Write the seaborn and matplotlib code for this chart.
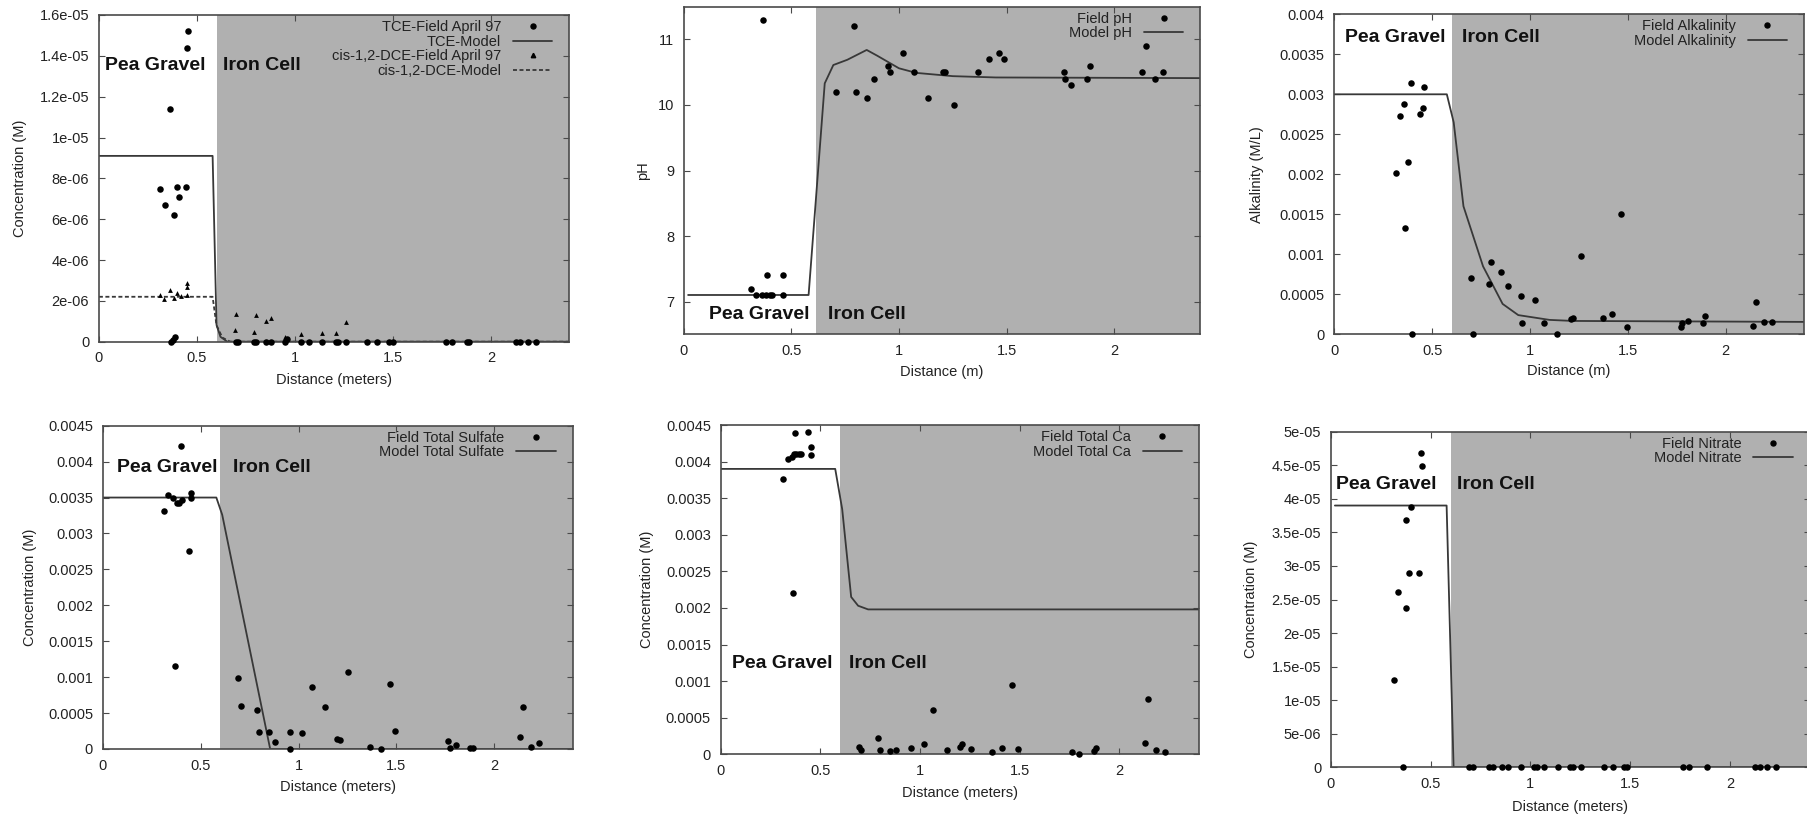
import matplotlib
matplotlib.use("Agg")
import matplotlib.pyplot as plt
import seaborn as sns
from matplotlib.ticker import FixedLocator, FuncFormatter
from matplotlib.lines import Line2D

# ------------------------------------------------------------------ data
# Panel 1: TCE and cis-1,2-DCE
tce_field_x = [0.453, 0.451, 0.363, 0.312, 0.336, 0.400, 0.443, 0.409, 0.385, 0.370, 0.380, 0.390,
               0.70, 0.71, 0.79, 0.80, 0.85, 0.88, 0.95, 0.96, 1.03, 1.07, 1.14, 1.21, 1.22, 1.26,
               1.37, 1.42, 1.48, 1.50, 1.77, 1.80, 1.88, 1.89, 2.13, 2.15, 2.19, 2.23]
tce_field_y = [1.52e-5, 1.44e-5, 1.14e-5, 7.5e-6, 6.7e-6, 7.6e-6, 7.6e-6, 7.1e-6, 6.2e-6, 0.0, 1e-7, 2.5e-7,
               0, 0, 0, 0, 0, 0, 0, 1.5e-7, 0, 0, 0, 0, 0, 0,
               0, 0, 0, 0, 0, 0, 0, 0, 0, 0, 0, 0]
tce_model_x = [0.0, 0.58, 0.60, 0.62, 0.655, 2.4]
tce_model_y = [9.1e-6, 9.1e-6, 8.2e-7, 2.4e-7, 0.0, 0.0]
dce_field_x = [0.312, 0.334, 0.363, 0.383, 0.397, 0.417, 0.451, 0.451, 0.451,
               0.70, 0.695, 0.80, 0.79, 0.85, 0.88, 0.95, 1.03, 1.14, 1.21, 1.26]
dce_field_y = [2.29e-6, 2.09e-6, 2.53e-6, 2.16e-6, 2.37e-6, 2.24e-6, 2.86e-6, 2.66e-6, 2.29e-6,
               1.36e-6, 5.7e-7, 1.31e-6, 4.9e-7, 1.01e-6, 1.18e-6, 2.1e-7, 3.8e-7, 4.1e-7, 4.4e-7, 9.5e-7]
dce_model_x = [0.0, 0.58, 0.60, 0.63, 0.67, 2.4]
dce_model_y = [2.2e-6, 2.2e-6, 8e-7, 2e-7, 0.0, 0.0]

# Panel 2: pH
ph_field_x = [0.368, 0.313, 0.335, 0.362, 0.381, 0.399, 0.408, 0.386, 0.463, 0.459,
              0.706, 0.790, 0.798, 0.851, 0.882, 0.951, 0.957, 1.019, 1.070, 1.134, 1.204, 1.215,
              1.255, 1.369, 1.420, 1.464, 1.489, 1.766, 1.773, 1.800, 1.876, 1.888,
              2.130, 2.146, 2.188, 2.229]
ph_field_y = [11.30, 7.19, 7.10, 7.10, 7.10, 7.10, 7.10, 7.40, 7.40, 7.10,
              10.20, 11.20, 10.20, 10.10, 10.40, 10.60, 10.50, 10.80, 10.50, 10.10, 10.50, 10.50,
              10.00, 10.50, 10.70, 10.80, 10.70, 10.50, 10.40, 10.30, 10.40, 10.60,
              10.50, 10.90, 10.40, 10.50]
ph_model_x = [0.02, 0.58, 0.655, 0.695, 0.76, 0.85, 0.90, 1.00, 1.08, 1.25, 1.45, 2.40]
ph_model_y = [7.10, 7.10, 10.33, 10.61, 10.69, 10.84, 10.75, 10.56, 10.49, 10.44, 10.42, 10.41]

# Panel 3: Alkalinity
alk_field_x = [0.391, 0.456, 0.357, 0.335, 0.452, 0.440, 0.379, 0.313, 0.361, 0.399,
               0.696, 0.710, 0.800, 0.792, 0.853, 0.885, 0.956, 0.958, 1.026, 1.073, 1.139,
               1.210, 1.220, 1.262, 1.371, 1.417, 1.466, 1.498, 1.772, 1.778, 1.806, 1.885,
               1.895, 2.139, 2.157, 2.196, 2.236]
alk_field_y = [3.14e-3, 3.09e-3, 2.88e-3, 2.73e-3, 2.83e-3, 2.75e-3, 2.15e-3, 2.02e-3, 1.33e-3, 0.0,
               7.1e-4, 0.0, 9.0e-4, 6.25e-4, 7.8e-4, 6.1e-4, 4.8e-4, 1.4e-4, 4.3e-4, 1.4e-4, 0.0,
               1.9e-4, 2.0e-4, 9.8e-4, 2.0e-4, 2.5e-4, 1.51e-3, 9.6e-5, 9.6e-5, 1.4e-4, 1.7e-4, 1.4e-4,
               2.3e-4, 1.0e-4, 4.0e-4, 1.5e-4, 1.5e-4]
alk_model_x = [0.0, 0.575, 0.61, 0.66, 0.76, 0.86, 0.94, 1.10, 1.22, 2.40]
alk_model_y = [3.0e-3, 3.0e-3, 2.65e-3, 1.6e-3, 8.5e-4, 3.8e-4, 2.4e-4, 1.8e-4, 1.67e-4, 1.55e-4]

# Panel 4: Total sulfate
sulf_field_x = [0.398, 0.313, 0.333, 0.358, 0.378, 0.388, 0.406, 0.453, 0.453, 0.438, 0.370,
                0.691, 0.705, 0.788, 0.796, 0.851, 0.879, 0.954, 0.954, 1.018, 1.069, 1.133,
                1.198, 1.212, 1.253, 1.366, 1.420, 1.465, 1.493, 1.766, 1.776, 1.802, 1.877,
                1.893, 2.131, 2.147, 2.188, 2.230]
sulf_field_y = [4.22e-3, 3.31e-3, 3.53e-3, 3.50e-3, 3.42e-3, 3.43e-3, 3.46e-3, 3.56e-3, 3.49e-3, 2.75e-3, 1.16e-3,
                9.9e-4, 6.0e-4, 5.4e-4, 2.3e-4, 2.3e-4, 1.0e-4, 2.4e-4, 0.0, 2.2e-4, 8.6e-4, 5.8e-4,
                1.4e-4, 1.2e-4, 1.07e-3, 3e-5, 0.0, 9.0e-4, 2.5e-4, 1.1e-4, 1e-5, 5e-5, 1e-5,
                2e-5, 1.7e-4, 5.8e-4, 3e-5, 8e-5]
sulf_model_x = [0.0, 0.58, 0.61, 0.855, 2.40]
sulf_model_y = [3.5e-3, 3.5e-3, 3.26e-3, 0.0, 0.0]

# Panel 5: Total Ca
ca_field_x = [0.372, 0.437, 0.337, 0.357, 0.368, 0.380, 0.394, 0.404, 0.453, 0.453, 0.313, 0.363,
              0.692, 0.703, 0.788, 0.798, 0.851, 0.881, 0.954, 1.021, 1.068, 1.135, 1.202, 1.212,
              1.255, 1.360, 1.411, 1.460, 1.492, 1.764, 1.799, 1.872, 1.882, 2.128, 2.146, 2.185, 2.228]
ca_field_y = [4.39e-3, 4.41e-3, 4.04e-3, 4.06e-3, 4.10e-3, 4.10e-3, 4.11e-3, 4.11e-3, 4.20e-3, 4.09e-3, 3.76e-3, 2.20e-3,
              9.5e-5, 6e-5, 2.2e-4, 6e-5, 5e-5, 6e-5, 8e-5, 1.4e-4, 6.0e-4, 6e-5, 1e-4, 1.4e-4,
              7e-5, 3e-5, 9e-5, 9.5e-4, 7e-5, 3e-5, 1e-5, 5e-5, 8e-5, 1.6e-4, 7.5e-4, 6e-5, 3e-5]
ca_model_x = [0.0, 0.575, 0.61, 0.655, 0.69, 0.74, 2.40]
ca_model_y = [3.9e-3, 3.9e-3, 3.35e-3, 2.15e-3, 2.03e-3, 1.98e-3, 1.98e-3]

# Panel 6: Nitrate
no3_field_x = [0.453, 0.455, 0.401, 0.376, 0.391, 0.440, 0.337, 0.378, 0.316, 0.360,
               0.692, 0.711, 0.793, 0.812, 0.857, 0.886, 0.953, 1.016, 1.031, 1.070, 1.137, 1.200,
               1.215, 1.256, 1.370, 1.413, 1.467, 1.486, 1.767, 1.796, 1.884, 2.128, 2.149, 2.186, 2.229]
no3_field_y = [4.69e-5, 4.49e-5, 3.88e-5, 3.69e-5, 2.89e-5, 2.89e-5, 2.61e-5, 2.38e-5, 1.30e-5, 0.0,
               0, 0, 0, 0, 0, 0, 0, 0, 0, 0, 0, 0,
               0, 0, 0, 0, 0, 0, 0, 0, 0, 0, 0, 0, 0]
no3_model_x = [0.02, 0.58, 0.615, 2.40]
no3_model_y = [3.9e-5, 3.9e-5, 0.0, 0.0]

x_ticks = [0, 0.5, 1, 1.5, 2]

# ------------------------------------------------------------------ style
sns.set_theme(style="ticks")
plt.rcParams["font.family"] = ["Liberation Sans", "DejaVu Sans"]

W, H = 1807, 818
TEXT_C = "#222222"
GRAY = "#b0b0b0"
LINE_C = "#383838"
SPINE_C = "#4a4a4a"

fig = plt.figure(figsize=(W / 100, H / 100), dpi=100)
fig.patch.set_facecolor("white")


def add_axes(rect):
    l, t, r, b = rect
    return fig.add_axes([l / W, 1 - b / H, (r - l) / W, (b - t) / H])


gfmt = FuncFormatter(lambda v, p: "%g" % round(v, 12))


def style(ax, rect, xlabel, ylabel, ylim, yticks, ylab_cx, xlab_cy, gray_start=0.6):
    l, t, r, b = rect
    ax.set_facecolor("white")
    ax.set_xlim(0, 2.4)
    ax.set_ylim(*ylim)
    ax.axvspan(gray_start, 2.4, color=GRAY, lw=0, zorder=0)
    ax.xaxis.set_major_locator(FixedLocator(x_ticks))
    ax.yaxis.set_major_locator(FixedLocator(yticks))
    ax.xaxis.set_major_formatter(gfmt)
    ax.yaxis.set_major_formatter(gfmt)
    ax.tick_params(direction="in", top=True, right=True, length=4, width=0.8,
                   color=SPINE_C, labelsize=10.5, labelcolor=TEXT_C, pad=7)
    for s in ax.spines.values():
        s.set_color(SPINE_C)
        s.set_linewidth(1.2)
    ax.set_xlabel(xlabel, fontsize=10.5, color=TEXT_C, va="center")
    ax.set_ylabel(ylabel, fontsize=10.5, color=TEXT_C, va="center")
    ax.yaxis.set_label_coords((ylab_cx - l) / (r - l), 0.5)
    ax.xaxis.set_label_coords(0.5, (b - xlab_cy) / (b - t))


def zones(ax, y, pg_x, ic_x):
    kw = dict(fontsize=14, fontweight="bold", color="#111111", ha="left", va="center", zorder=4)
    ax.text(pg_x, y, "Pea Gravel", **kw)
    ax.text(ic_x, y, "Iron Cell", **kw)


def legend(ax, rect, handles, labels):
    l, t, r, b = rect
    leg = ax.legend(handles, labels, loc="upper right",
                    bbox_to_anchor=(1 - 17 / (r - l), 1 - 5 / (b - t)),
                    borderaxespad=0, borderpad=0, frameon=False, markerfirst=False,
                    fontsize=10.5, handlelength=2.7, handletextpad=0.8, labelspacing=0.05)
    for tx in leg.get_texts():
        tx.set_color(TEXT_C)


def field(ax, x, y, marker="o", s=22):
    sns.scatterplot(x=x, y=y, ax=ax, color="black", marker=marker, s=s, linewidth=0,
                    clip_on=False, zorder=3, legend=False)


def model(ax, x, y, ls="-"):
    sns.lineplot(x=x, y=y, ax=ax, color=LINE_C, linewidth=1.3, linestyle=ls,
                 estimator=None, sort=False, legend=False, zorder=2)


h_dot = Line2D([], [], ls="none", marker="o", color="black", markersize=3.6)
h_tri = Line2D([], [], ls="none", marker="^", color="black", markersize=3.2)
h_line = Line2D([], [], color=LINE_C, lw=1.3)
h_dash = Line2D([], [], color=LINE_C, lw=1.3, ls=(0, (2.2, 1.4)))

# ------------------------------------------------------------------ panel 1
r1 = (98.9, 15.0, 569.4, 341.7)
ax = add_axes(r1)
style(ax, r1, "Distance (meters)", "Concentration (M)", (0, 1.6e-5),
      [0, 2e-6, 4e-6, 6e-6, 8e-6, 1e-5, 1.2e-5, 1.4e-5, 1.6e-5], 19.8, 380)
model(ax, tce_model_x, tce_model_y)
model(ax, dce_model_x, dce_model_y, ls=(0, (2.2, 1.4)))
field(ax, tce_field_x, tce_field_y)
field(ax, dce_field_x, dce_field_y, marker="^", s=12)
zones(ax, 1.355e-5, 0.03, 0.634)
legend(ax, r1, [h_dot, h_line, h_tri, h_dash],
       ["TCE-Field April 97", "TCE-Model", "cis-1,2-DCE-Field April 97", "cis-1,2-DCE-Model"])

# ------------------------------------------------------------------ panel 2
r2 = (683.8, 6.7, 1200.2, 334.3)
ax = add_axes(r2)
style(ax, r2, "Distance (m)", "pH", (6.5, 11.5), [7, 8, 9, 10, 11], 642.7, 371.7, gray_start=0.615)
model(ax, ph_model_x, ph_model_y)
field(ax, ph_field_x, ph_field_y)
zones(ax, 6.80, 0.119, 0.668)
legend(ax, r2, [h_dot, h_line], ["Field pH", "Model pH"])

# ------------------------------------------------------------------ panel 3
r3 = (1334.3, 14.3, 1804.0, 334.3)
ax = add_axes(r3)
style(ax, r3, "Distance (m)", "Alkalinity (M/L)", (0, 0.004),
      [0, 0.0005, 0.001, 0.0015, 0.002, 0.0025, 0.003, 0.0035, 0.004], 1257.3, 371)
model(ax, alk_model_x, alk_model_y)
field(ax, alk_field_x, alk_field_y)
zones(ax, 3.71e-3, 0.056, 0.655)
legend(ax, r3, [h_dot, h_line], ["Field Alkalinity", "Model Alkalinity"])

# ------------------------------------------------------------------ panel 4
r4 = (102.8, 425.7, 572.6, 749.0)
ax = add_axes(r4)
style(ax, r4, "Distance (meters)", "Concentration (M)", (0, 0.0045),
      [0, 0.0005, 0.001, 0.0015, 0.002, 0.0025, 0.003, 0.0035, 0.004, 0.0045], 29.7, 786.7)
model(ax, sulf_model_x, sulf_model_y)
field(ax, sulf_field_x, sulf_field_y)
zones(ax, 3.92e-3, 0.073, 0.667)
legend(ax, r4, [h_dot, h_line], ["Field Total Sulfate", "Model Total Sulfate"])

# ------------------------------------------------------------------ panel 5
r5 = (720.6, 425.0, 1199.0, 754.3)
ax = add_axes(r5)
style(ax, r5, "Distance (meters)", "Concentration (M)", (0, 0.0045),
      [0, 0.0005, 0.001, 0.0015, 0.002, 0.0025, 0.003, 0.0035, 0.004, 0.0045], 646.7, 792.7)
model(ax, ca_model_x, ca_model_y)
field(ax, ca_field_x, ca_field_y)
zones(ax, 1.24e-3, 0.055, 0.646)
legend(ax, r5, [h_dot, h_line], ["Field Total Ca", "Model Total Ca"])

# ------------------------------------------------------------------ panel 6
r6 = (1330.9, 431.7, 1809.7, 767.3)
ax = add_axes(r6)
style(ax, r6, "Distance (meters)", "Concentration (M)", (0, 5e-5),
      [0, 5e-6, 1e-5, 1.5e-5, 2e-5, 2.5e-5, 3e-5, 3.5e-5, 4e-5, 4.5e-5, 5e-5], 1251.5, 806.7)
model(ax, no3_model_x, no3_model_y)
field(ax, no3_field_x, no3_field_y)
zones(ax, 4.22e-5, 0.027, 0.63)
legend(ax, r6, [h_dot, h_line], ["Field Nitrate", "Model Nitrate"])

fig.savefig("out.png", dpi=100, facecolor="white")
